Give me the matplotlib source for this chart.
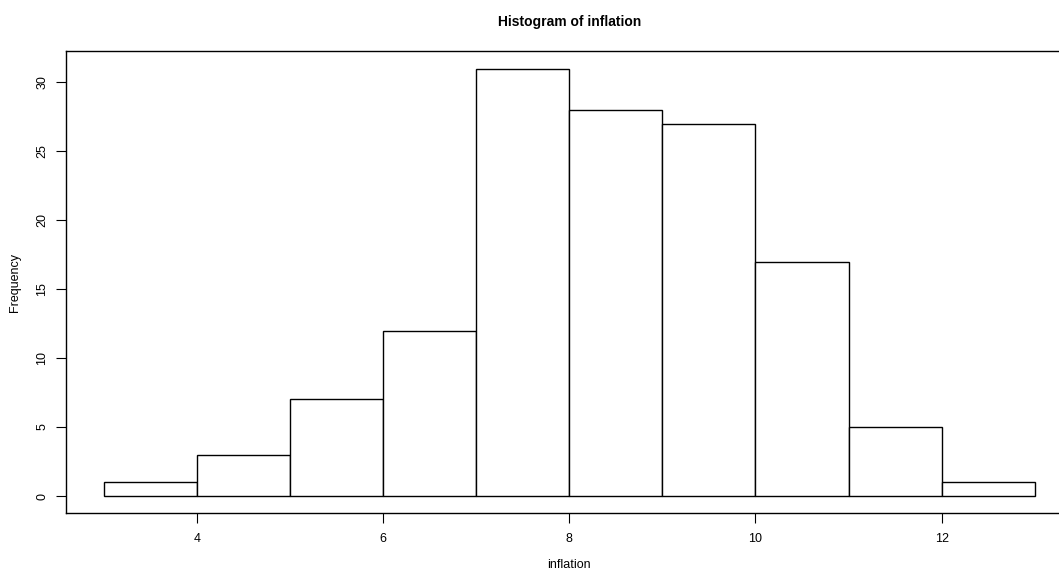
import matplotlib
matplotlib.use('Agg')
import matplotlib.pyplot as plt

# histogram bins and counts
bin_edges = [3, 4, 5, 6, 7, 8, 9, 10, 11, 12, 13]
counts = [1, 3, 7, 12, 31, 28, 27, 17, 5, 1]
x_ticks = [4, 6, 8, 10, 12]
y_ticks = [0, 5, 10, 15, 20, 25, 30]

plt.rcParams['font.family'] = ['Liberation Sans', 'DejaVu Sans']

W, H = 1059, 570
fig = plt.figure(figsize=(W / 100, H / 100), dpi=100)
# plot region in pixels; the right edge runs past the image like the reference
left, right, top, bottom = 66.4, 1072, 51.4, 513.1
ax = fig.add_axes([left / W, 1 - bottom / H, (right - left) / W, (bottom - top) / H])

widths = [b - a for a, b in zip(bin_edges[:-1], bin_edges[1:])]
ax.bar(bin_edges[:-1], counts, width=widths, align='edge',
       facecolor='white', edgecolor='black', linewidth=1.0)

ax.set_xlim(2.6, 13.4)
ax.set_ylim(-1.24, 32.24)
ax.set_xticks(x_ticks)
ax.set_yticks(y_ticks)
ax.set_xticklabels([str(t) for t in x_ticks], fontsize=9)
ax.set_yticklabels([str(t) for t in y_ticks], fontsize=9, rotation=90, va='center')
ax.tick_params(direction='out', length=7, width=0.8)
ax.tick_params(axis='x', pad=7)
ax.tick_params(axis='y', pad=6)
for s in ax.spines.values():
    s.set_linewidth(1.0)

fig.text(0.5 * (66.4 + 1072) / W, 1 - 22 / H, 'Histogram of inflation',
         ha='center', va='center', fontsize=10, fontweight='bold')
fig.text(0.5 * (66.4 + 1072) / W, 1 - 565 / H, 'inflation',
         ha='center', va='center', fontsize=9)
fig.text(15 / W, 1 - (51.4 + 513.1) / 2 / H, 'Frequency',
         ha='center', va='center', fontsize=9, rotation=90)

fig.savefig('out.png', dpi=100)
